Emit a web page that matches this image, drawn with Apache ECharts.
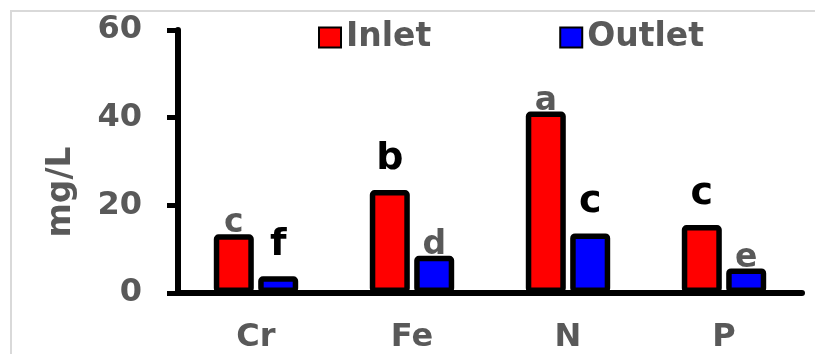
<!DOCTYPE html>
<html>
<head>
<meta charset="utf-8">
<script src="https://cdn.jsdelivr.net/npm/echarts@6/dist/echarts.min.js"></script>
<style>
  html, body { margin: 0; padding: 0; background: #fff; }
  #chart { width: 815px; height: 354px; }
</style>
</head>
<body>
<div id="chart"></div>
<script>
const categories = ["Cr", "Fe", "N", "P"];
// read at the outer top edge of each bar
const inlet = [13.4, 23.5, 41.4, 15.5];
const outlet = [3.8, 8.5, 13.6, 5.6];
const inletLetters = ["c", "b", "a", "c"];
const outletLetters = ["f", "d", "c", "e"];
// letters printed in black (bigger) vs grey
const inletBlack = [false, true, false, true];
const outletBlack = [true, false, true, false];
const yTicks = [0, 20, 40, 60];
const yName = "mg/L";

const font = "DejaVu Sans";
const grey = "#595959";

const letterLabel = (letter, black) => ({
  show: true,
  position: "top",
  formatter: letter,
  fontFamily: font,
  fontWeight: "bold",
  fontSize: black ? 38 : 33,
  color: black ? "#000" : grey,
  distance: black ? 12 : -6,
});

const makeData = (vals, letters, black) =>
  vals.map((v, i) => ({ value: v, label: letterLabel(letters[i], black[i]) }));

const chart = echarts.init(document.getElementById("chart"));
chart.setOption({
  animation: false,
  graphic: [
    {
      type: "rect",
      shape: { x: 11, y: 11, width: 830, height: 380 },
      style: { fill: "none", stroke: "#d9d9d9", lineWidth: 2 },
    },
    {
      type: "text",
      x: 61,
      y: 192,
      rotation: Math.PI / 2,
      style: {
        text: yName,
        fontFamily: font,
        fontWeight: "bold",
        fontSize: 33,
        fill: grey,
        align: "center",
        verticalAlign: "middle",
      },
    },
  ],
  grid: { left: 178, right: 13, top: 30, bottom: 61 },
  legend: {
    top: 16,
    left: 313,
    itemWidth: 22,
    itemHeight: 20,
    itemGap: 128,
    icon: "rect",
    textStyle: { fontFamily: font, fontWeight: "bold", fontSize: 33, color: grey },
    data: ["Inlet", "Outlet"],
  },
  xAxis: {
    type: "category",
    data: categories,
    axisLine: { lineStyle: { color: "#000", width: 6 } },
    axisTick: { show: false },
    axisLabel: { fontFamily: font, fontWeight: "bold", fontSize: 32, color: grey, margin: 29 },
  },
  yAxis: {
    type: "value",
    min: yTicks[0],
    max: yTicks[yTicks.length - 1],
    interval: 20,
    axisLine: { show: true, lineStyle: { color: "#000", width: 6 } },
    axisTick: { show: true, length: 11, lineStyle: { color: "#000", width: 5 } },
    axisLabel: { fontFamily: font, fontWeight: "bold", fontSize: 32, color: grey, margin: 36 },
    splitLine: { show: false },
  },
  series: [
    {
      name: "Inlet",
      type: "bar",
      data: makeData(inlet, inletLetters, inletBlack),
      barWidth: 40,
      barGap: "11%",
      itemStyle: { color: "#ff0000", borderColor: "#000", borderWidth: 5.5, borderRadius: 2 },
    },
    {
      name: "Outlet",
      type: "bar",
      data: makeData(outlet, outletLetters, outletBlack),
      barWidth: 40,
      itemStyle: { color: "#0000ff", borderColor: "#000", borderWidth: 5.5, borderRadius: 2 },
    },
  ],
});
</script>
</body>
</html>
